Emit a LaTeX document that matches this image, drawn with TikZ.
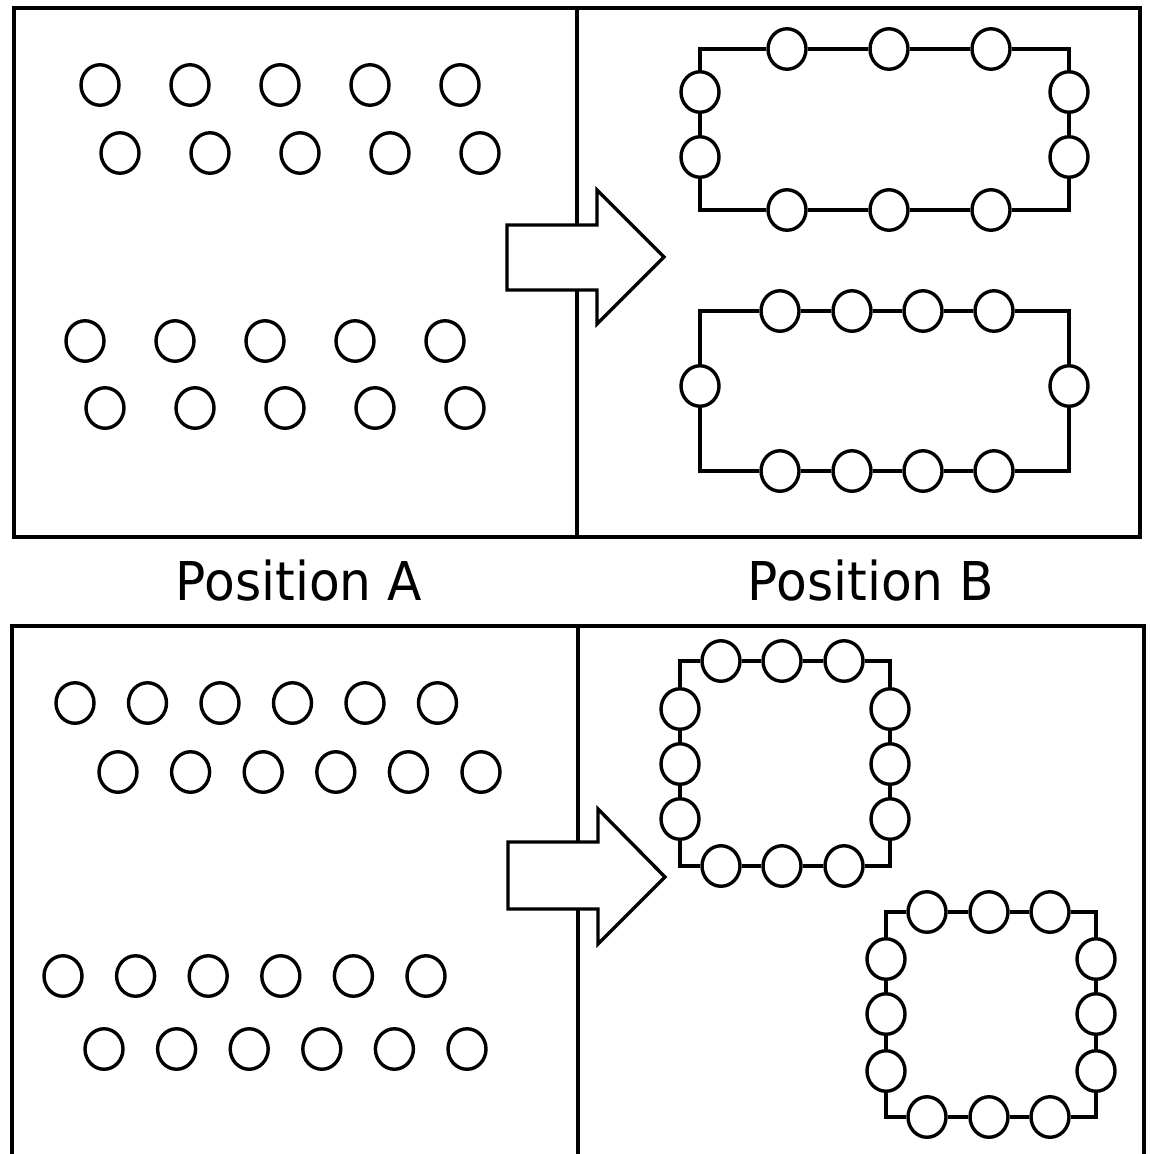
\documentclass[tikz,border=0pt]{standalone}
\usepackage{fontspec}
\usetikzlibrary{shapes.geometric}
\newfontfamily\labelfont{DejaVu Sans}
\begin{document}
\begin{tikzpicture}[x=1pt,y=-1pt,line width=3.4pt,
  bead/.style={ellipse,draw,fill=white,minimum width=38pt,minimum height=40.5pt,inner sep=0pt,line width=3.4pt},
  panel/.style={draw,line width=3.4pt},
  bigarrow/.style={draw,fill=white,line width=3.4pt,line join=miter},
  wire/.style={draw,line width=3.4pt,line join=miter},
  poslabel/.style={anchor=base,inner sep=0pt,xscale=0.94,font=\labelfont\fontsize{53.5}{60}\selectfont}]
\useasboundingbox (0,0) rectangle (1150,1154);
% panels
\draw[panel] (14,8) rectangle (1140,537);
\draw[panel] (577,8) -- (577,537);
\draw[panel] (12,1160) -- (12,626) -- (1144,626) -- (1144,1160);
\draw[panel] (578,626) -- (578,1160);
% arrows
\path[bigarrow] (507,225) -- (597,225) -- (597,190) -- (664,257) -- (597,324) -- (597,290) -- (507,290) -- cycle;
\path[bigarrow] (508,842) -- (598,842) -- (598,809) -- (665,877) -- (598,944) -- (598,909) -- (508,909) -- cycle;
% labels
\node[poslabel] (labA) at (299,600) {Position A};
\node[poslabel] (labB) at (871,600) {Position B};
% top-left beads
\foreach \i in {1,...,5} {
  \node[bead] (pa\i) at ({100+90*(\i-1)},85) {};
  \node[bead] (pb\i) at ({120+90*(\i-1)},153) {};
  \node[bead] (pc\i) at ({85+90*(\i-1)},341) {};
  \node[bead] (pd\i) at ({105+90*(\i-1)},408) {};
}
% bottom-left beads
\foreach \i in {1,...,6} {
  \node[bead] (qa\i) at ({75+72.5*(\i-1)},703) {};
  \node[bead] (qb\i) at ({118+72.6*(\i-1)},772) {};
  \node[bead] (qc\i) at ({63+72.6*(\i-1)},976) {};
  \node[bead] (qd\i) at ({104+72.6*(\i-1)},1049) {};
}
% ring 1 (top right)
\coordinate (r1TL) at (700,49); \coordinate (r1TR) at (1069,49);
\coordinate (r1BR) at (1069,210); \coordinate (r1BL) at (700,210);
\foreach \x [count=\k] in {787,889,991} {
  \node[bead] (r1t\k) at (\x,49) {};
  \node[bead] (r1b\k) at (\x,210) {};
}
\foreach \y [count=\k] in {92,157} {
  \node[bead] (r1l\k) at (700,\y) {};
  \node[bead] (r1r\k) at (1069,\y) {};
}
\path[wire] (r1t1) -- (r1t2) -- (r1t3) -- (r1TR) -- (r1r1) -- (r1r2) -- (r1BR)
  -- (r1b3) -- (r1b2) -- (r1b1) -- (r1BL) -- (r1l2) -- (r1l1) -- (r1TL) -- (r1t1);
% ring 2 (top right lower)
\coordinate (r2TL) at (700,311); \coordinate (r2TR) at (1069,311);
\coordinate (r2BR) at (1069,471); \coordinate (r2BL) at (700,471);
\foreach \x [count=\k] in {780,852,923,994} {
  \node[bead] (r2t\k) at (\x,311) {};
  \node[bead] (r2b\k) at (\x,471) {};
}
\node[bead] (r2l1) at (700,386) {};
\node[bead] (r2r1) at (1069,386) {};
\path[wire] (r2t1) -- (r2t2) -- (r2t3) -- (r2t4) -- (r2TR) -- (r2r1) -- (r2BR)
  -- (r2b4) -- (r2b3) -- (r2b2) -- (r2b1) -- (r2BL) -- (r2l1) -- (r2TL) -- (r2t1);
% square 1 (bottom right)
\coordinate (s1TL) at (680,661); \coordinate (s1TR) at (890,661);
\coordinate (s1BR) at (890,866); \coordinate (s1BL) at (680,866);
\foreach \x [count=\k] in {721,782,844} {
  \node[bead] (s1t\k) at (\x,661) {};
  \node[bead] (s1b\k) at (\x,866) {};
}
\foreach \y [count=\k] in {709,764,819} {
  \node[bead] (s1l\k) at (680,\y) {};
  \node[bead] (s1r\k) at (890,\y) {};
}
\path[wire] (s1t1) -- (s1t2) -- (s1t3) -- (s1TR) -- (s1r1) -- (s1r2) -- (s1r3) -- (s1BR)
  -- (s1b3) -- (s1b2) -- (s1b1) -- (s1BL) -- (s1l3) -- (s1l2) -- (s1l1) -- (s1TL) -- (s1t1);
% square 2
\coordinate (s2TL) at (886,912); \coordinate (s2TR) at (1096,912);
\coordinate (s2BR) at (1096,1117); \coordinate (s2BL) at (886,1117);
\foreach \x [count=\k] in {927,989,1050} {
  \node[bead] (s2t\k) at (\x,912) {};
  \node[bead] (s2b\k) at (\x,1117) {};
}
\foreach \y [count=\k] in {959,1014,1071} {
  \node[bead] (s2l\k) at (886,\y) {};
  \node[bead] (s2r\k) at (1096,\y) {};
}
\path[wire] (s2t1) -- (s2t2) -- (s2t3) -- (s2TR) -- (s2r1) -- (s2r2) -- (s2r3) -- (s2BR)
  -- (s2b3) -- (s2b2) -- (s2b1) -- (s2BL) -- (s2l3) -- (s2l2) -- (s2l1) -- (s2TL) -- (s2t1);
\end{tikzpicture}
\end{document}
